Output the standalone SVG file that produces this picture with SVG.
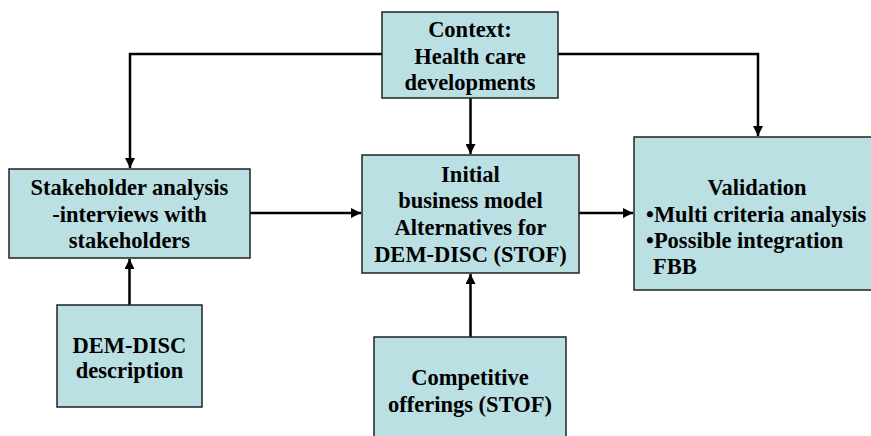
<svg xmlns="http://www.w3.org/2000/svg" width="871" height="436" viewBox="0 0 871 436">
<defs>
<marker id="ah" markerWidth="10" markerHeight="10" refX="10" refY="5" orient="auto" markerUnits="userSpaceOnUse">
<path d="M0,0 L10,5 L0,10 Z" fill="#000"/>
</marker>
</defs>
<style>
.box{fill:#bbe0e3;stroke:#222;stroke-width:1.5}
text{font-family:'Liberation Serif','DejaVu Serif',serif;font-weight:bold;font-size:22.5px;fill:#000;text-anchor:middle}
.l{text-anchor:start}
.c{fill:none;stroke:#000;stroke-width:2.5;marker-end:url(#ah)}
</style>
<rect width="871" height="436" fill="#fff"/>
<g id="connectors">
<path class="c" d="M382,54 H130 V168"/>
<path class="c" d="M558,54 H758 V136"/>
<path class="c" d="M470.5,98 V154"/>
<path class="c" d="M250,213 H361"/>
<path class="c" d="M579,213 H633"/>
<path class="c" d="M129.5,305 V259"/>
<path class="c" d="M470.5,337 V274"/>
</g>
<g id="context" font-family="Liberation Serif">
<rect class="box" x="382" y="12" width="176" height="86"/>
<text x="470" y="37">Context:</text>
<text x="470" y="64">Health care</text>
<text x="470" y="90">developments</text>
</g>
<g id="stakeholder" font-family="Liberation Serif">
<rect class="box" x="9" y="169" width="241" height="89"/>
<text x="129.5" y="195">Stakeholder analysis</text>
<text x="129.5" y="222">-interviews with</text>
<text x="129.5" y="248">stakeholders</text>
</g>
<g id="initial" font-family="Liberation Serif">
<rect class="box" x="362" y="155" width="217" height="118"/>
<text x="470.5" y="182">Initial</text>
<text x="470.5" y="208">business model</text>
<text x="470.5" y="235">Alternatives for</text>
<text x="470.5" y="262">DEM-DISC (STOF)</text>
</g>
<g id="validation" font-family="Liberation Serif">
<rect class="box" x="634" y="137" width="250" height="153"/>
<text x="757" y="195">Validation</text>
<text class="l" x="646" y="222">•Multi criteria analysis</text>
<text class="l" x="646" y="248">•Possible integration</text>
<text class="l" x="653" y="274">FBB</text>
</g>
<g id="demdisc" font-family="Liberation Serif">
<rect class="box" x="57" y="305" width="145" height="102"/>
<text x="129.5" y="353">DEM-DISC</text>
<text x="129.5" y="378">description</text>
</g>
<g id="competitive" font-family="Liberation Serif">
<rect class="box" x="374" y="337" width="192" height="110"/>
<text x="470" y="385">Competitive</text>
<text x="470" y="412">offerings (STOF)</text>
</g>
</svg>
